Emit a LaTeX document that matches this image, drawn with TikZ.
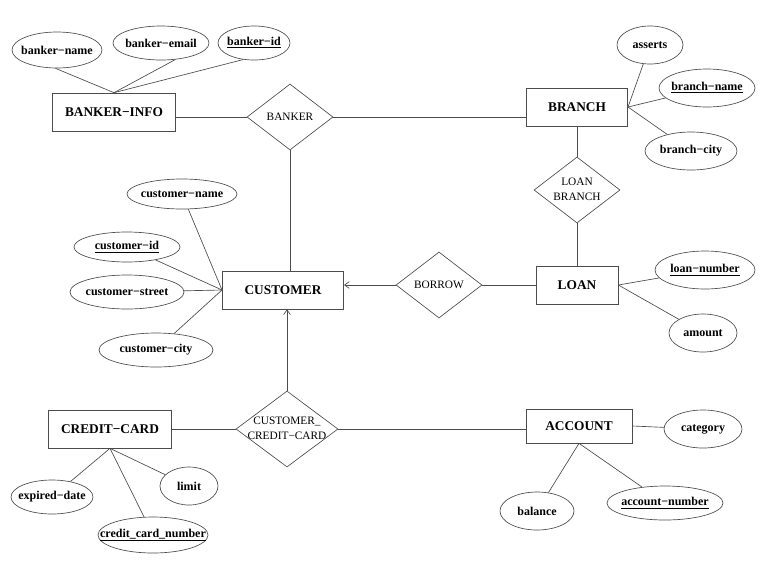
\documentclass[tikz,border=0pt]{standalone}
\usepackage{fontspec}
\setmainfont{Liberation Serif}
\usetikzlibrary{shapes.geometric,arrows.meta}

% text of zero width, so the shape keeps its given size
\newcommand{\zw}[1]{\makebox[0pt]{#1}}

\begin{document}
\begin{tikzpicture}[x=0.75pt,y=-0.75pt,color=black!70,text=black,line width=0.5pt,
  >={Straight Barb[length=3.5pt,width=5pt]},
  entity/.style={draw,rectangle,inner sep=0pt,minimum height=28.5pt,font=\fontsize{10}{12}\selectfont\bfseries},
  attr/.style={draw,ellipse,inner sep=0pt,font=\fontsize{9}{11}\selectfont\bfseries},
  rel/.style={draw,diamond,inner sep=0pt,minimum width=64.5pt,minimum height=49.5pt,font=\fontsize{8.5}{11}\selectfont}]

\useasboundingbox (0,0) rectangle (770,568);

% Entities
\node[entity,minimum width=92pt] (binfo) at (114,112) {BANKER−INFO};
\node[entity,minimum width=76pt] (branch) at (577,107) {BRANCH};
\node[entity,minimum width=91pt] (customer) at (283,290) {CUSTOMER};
\node[entity,minimum width=61.5pt] (loan) at (577,285) {LOAN};
\node[entity,minimum width=92pt] (ccard) at (110,429) {CREDIT−CARD};
\node[entity,minimum width=79.5pt,minimum height=25.5pt] (account) at (579,426) {ACCOUNT};

% Relationships
\node[rel] (banker) at (290,117) {BANKER};
\node[rel] (loanbranch) at (577,190) {\zw{\begin{tabular}{@{}c@{}}LOAN\\BRANCH\end{tabular}}};
\node[rel] (borrow) at (439,285) {BORROW};
\node[rel,minimum width=76.5pt,minimum height=57pt] (custcard) at (287,429)
  {\zw{\begin{tabular}{@{}c@{}}CUSTOMER\_\\CREDIT−CARD\end{tabular}}};

% Attributes of BANKER-INFO
\node[attr,minimum width=67.5pt,minimum height=27pt] (bname) at (57,50) {\zw{banker−name}};
\node[attr,minimum width=72pt,minimum height=25.5pt] (bemail) at (161,43) {\zw{banker−email}};
\node[attr,minimum width=54pt,minimum height=25.5pt] (bid) at (254,43) {\zw{\underline{banker−id}}};

% Attributes of BRANCH
\node[attr,minimum width=49.5pt,minimum height=28.5pt] (asserts) at (650,45) {\zw{asserts}};
\node[attr,minimum width=72pt,minimum height=28.5pt] (brname) at (707,88) {\zw{\underline{branch−name}}};
\node[attr,minimum width=69pt,minimum height=28.5pt] (brcity) at (691,151) {\zw{branch−city}};

% Attributes of CUSTOMER
\node[attr,minimum width=82.5pt,minimum height=22.5pt] (cname) at (182,194) {\zw{customer−name}};
\node[attr,minimum width=79.5pt,minimum height=22.5pt] (cid) at (127,247) {\zw{\underline{customer−id}}};
\node[attr,minimum width=85.5pt,minimum height=25.5pt] (cstreet) at (127,292) {\zw{customer−street}};
\node[attr,minimum width=85.5pt,minimum height=25.5pt] (ccity) at (156,350) {\zw{customer−city}};

% Attributes of LOAN
\node[attr,minimum width=75pt,minimum height=28.5pt] (lnumber) at (705,270) {\zw{\underline{loan−number}}};
\node[attr,minimum width=51pt,minimum height=28.5pt] (amount) at (703,333) {\zw{amount}};

% Attributes of CREDIT-CARD
\node[attr,minimum width=61.5pt,minimum height=25.5pt] (expdate) at (52,497) {\zw{expired−date}};
\node[attr,minimum width=82.5pt,minimum height=27pt] (ccnumber) at (153,535) {\zw{\underline{credit\_card\_number}}};
\node[attr,minimum width=43.5pt,minimum height=28.5pt] (limit) at (189,486) {\zw{limit}};

% Attributes of ACCOUNT
\node[attr,minimum width=58.5pt,minimum height=28.5pt] (category) at (703,429) {\zw{category}};
\node[attr,minimum width=55.5pt,minimum height=28.5pt] (balance) at (537,511) {\zw{balance}};
\node[attr,minimum width=87pt,minimum height=25.5pt] (accnumber) at (665,503) {\zw{\underline{account−number}}};

% Relationship lines
\draw (binfo.east |- banker.west) -- (banker.west);
\draw (banker.east) -- (banker.east -| branch.west);
\draw (banker.south) -- (banker.south |- customer.north);
\draw (branch) -- (loanbranch) -- (loan);
\draw (loan) -- (borrow);
\draw[->] (borrow.west) -- (borrow.west -| customer.east);
\draw (ccard) -- (custcard);
\draw (custcard.east) -- (custcard.east -| account.west);
\draw[->] (custcard.north) -- (custcard.north |- customer.south);

% Attribute lines
\draw (binfo.north) -- (bname.-95);
\draw (binfo.north) -- (bemail.-49);
\draw (binfo.north) -- (bid.-123);
\foreach \a in {asserts,brname,brcity} \draw (branch.east) -- (\a);
\foreach \a in {cname,cid,cstreet,ccity} \draw (customer.west) -- (\a);
\foreach \a in {lnumber,amount} \draw (loan.east) -- (\a);
\foreach \a in {expdate,ccnumber,limit} \draw (ccard.south) -- (\a);
\draw (account.east) -- (category);
\draw (account.south) -- (balance);
\draw (account.south) -- (accnumber);

\end{tikzpicture}
\end{document}
